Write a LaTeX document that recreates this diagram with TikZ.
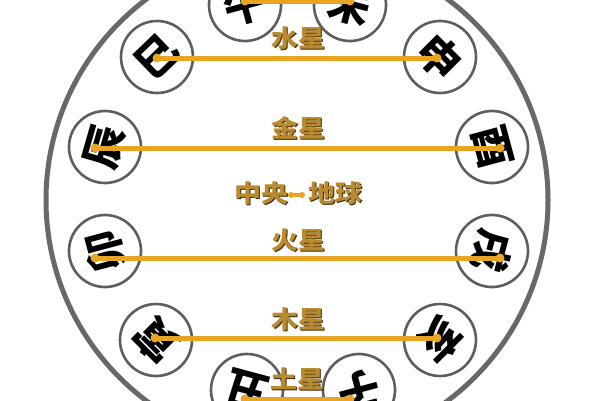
\documentclass[tikz,border=0pt]{standalone}
\usepackage{fontspec}
\newfontfamily\cjk{Noto Sans CJK SC}
\definecolor{linegold}{HTML}{E8A423}
\definecolor{textgold}{HTML}{BA8B2E}
\definecolor{textshade}{HTML}{3B2A0A}
\definecolor{ringgray}{HTML}{5E5E5E}
\definecolor{biggray}{HTML}{686868}
\begin{document}
\begin{tikzpicture}[x=1pt,y=-1pt,
  branch/.style={circle, draw=ringgray, line width=2.6pt, fill=white,
    minimum size=72pt, inner sep=0pt,
    font=\cjk\bfseries\fontsize{42}{42}\selectfont},
  link/.style={draw=linegold, line width=5pt},
  enddot/.style={circle, fill=linegold, inner sep=0pt, minimum size=9pt},
  lbl/.style={inner sep=0pt, text=textgold, yscale=0.9,
    font=\cjk\bfseries\fontsize{27}{27}\selectfont},
  lblshade/.style={lbl, text=textshade}]
\useasboundingbox (0,0) rectangle (600,400);
\fill[white] (0,0) rectangle (600,400);
% outer rim
\node[circle, draw=biggray, line width=5pt, minimum size=502pt, inner sep=0pt] (rim) at (297,200) {};
% branches
\node[branch, rotate=15]   (wu)   at (245,5)   {午};
\node[branch, rotate=-15]  (wei)  at (350,5)   {未};
\node[branch, rotate=44]   (si)   at (157,57)  {巳};
\node[branch, rotate=-45]  (shen) at (440,57)  {申};
\node[branch, rotate=74]   (chen) at (105,147) {辰};
\node[branch, rotate=-75]  (you)  at (492,147) {酉};
\node[branch, rotate=105]  (mao)  at (105,251) {卯};
\node[branch, rotate=-105] (xu)   at (492,251) {戌};
\node[branch, rotate=135]  (yin)  at (156,340) {寅};
\node[branch, rotate=-135] (hai)  at (440,340) {亥};
\node[branch, rotate=165]  (chou) at (247,390) {丑};
\node[branch, rotate=-165] (zi)   at (359,390) {子};
% line ends
\node[enddot] (t1) at (245,1) {};   \node[enddot] (t2) at (350,1) {};
\node[enddot] (s1) at (157,58) {};  \node[enddot] (s2) at (437,58) {};
\node[enddot] (j1) at (95,148) {};  \node[enddot] (j2) at (500,148) {};
\node[enddot] (h1) at (95,258) {};  \node[enddot] (h2) at (500,258) {};
\node[enddot] (m1) at (155,338) {}; \node[enddot] (m2) at (437,338) {};
\node[enddot] (e1) at (245,399) {}; \node[enddot] (e2) at (350,399) {};
\draw[link] (t1.center) -- (t2.center);
\draw[link] (s1.center) -- (s2.center);
\draw[link] (j1.center) -- (j2.center);
\draw[link] (h1.center) -- (h2.center);
\draw[link] (m1.center) -- (m2.center);
\draw[link] (e1.center) -- (e2.center);
% labels
\node[lblshade] (shuis) at (299,39) {水星};
\node[lbl] (shui) at (298,38) {水星};
\node[lblshade] (jins) at (299,129) {金星};
\node[lbl] (jin) at (298,128) {金星};
\node[lblshade] (zys) at (262,194) {中央};
\node[lbl] (zy) at (261,193) {中央};
\node[lblshade] (dqs) at (336,194) {地球};
\node[lbl] (dq) at (335,193) {地球};
\node[enddot, minimum size=6pt] (c1) at (291,195) {};
\node[enddot, minimum size=6pt] (c2) at (302,195) {};
\draw[draw=linegold, line width=4pt] (c1.center) -- (c2.center);
\node[lblshade] (huos) at (299,241) {火星};
\node[lbl] (huo) at (298,240) {火星};
\node[lblshade] (mus) at (299,320) {木星};
\node[lbl] (mu) at (298,319) {木星};
\node[lblshade] (tus) at (298,380) {土星};
\node[lbl] (tu) at (297,379) {土星};
\end{tikzpicture}
\end{document}
